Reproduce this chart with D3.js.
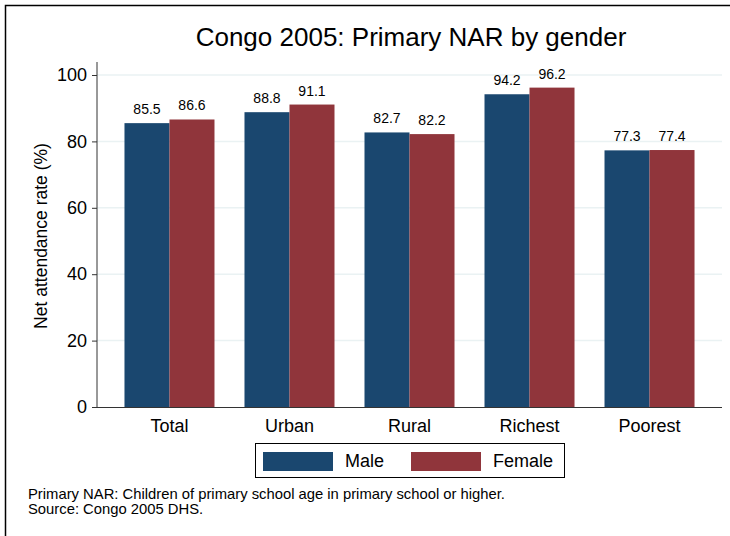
<!DOCTYPE html>
<html><head><meta charset="utf-8">
<script src="https://cdn.jsdelivr.net/npm/d3@7"></script>
<style>body{margin:0;background:#fff}svg{display:block;font-family:"Liberation Sans",Arial,sans-serif}</style>
</head><body><svg id="c" width="730" height="536"></svg>
<script>
const categories = ["Total","Urban","Rural","Richest","Poorest"];
const seriesNames = ["Male","Female"];
const maleValues = [85.5, 88.8, 82.7, 94.2, 77.3];
const femaleValues = [86.6, 91.1, 82.2, 96.2, 77.4];
const yTicks = [0,20,40,60,80,100];
const colors = ["#1a476f","#90353b"];

const svg = d3.select("#c");
svg.append("path").attr("d","M5.5,536 V5.5 H730").attr("fill","none").attr("stroke","#000").attr("stroke-width",1.5);

const x0 = d3.scaleBand().domain(categories).range([97,722]).paddingInner(0.25).paddingOuter(0.229);
const x1 = d3.scaleBand().domain(seriesNames).range([0,x0.bandwidth()]);
const y = d3.scaleLinear().domain([0,100]).range([407,75]);

svg.append("g").selectAll("line").data(yTicks.filter(t=>t>0)).join("line")
  .attr("x1",97).attr("x2",722).attr("y1",d=>y(d)).attr("y2",d=>y(d))
  .attr("stroke","#eaf2f3").attr("stroke-width",1.5);

const rows = categories.map((c,i)=>({cat:c, vals:[maleValues[i], femaleValues[i]]}));
const g = svg.append("g").selectAll("g").data(rows).join("g")
  .attr("transform",d=>`translate(${x0(d.cat)},0)`);
g.selectAll("rect").data(d=>d.vals.map((v,j)=>({s:seriesNames[j],v,j}))).join("rect")
  .attr("x",d=>x1(d.s)).attr("width",x1.bandwidth()).attr("y",d=>y(d.v)).attr("height",d=>y(0)-y(d.v))
  .attr("fill",d=>colors[d.j]);
g.selectAll("text").data(d=>d.vals.map((v,j)=>({s:seriesNames[j],v,j}))).join("text")
  .attr("x",d=>x1(d.s)+x1.bandwidth()/2).attr("y",d=>y(d.v)-9).attr("text-anchor","middle")
  .attr("font-size",14).text(d=>d.v.toFixed(1));

const ya = svg.append("g").attr("transform","translate(97,0)")
  .call(d3.axisLeft(y).tickValues(yTicks).tickSize(5).tickPadding(5));
ya.select(".domain").attr("d","M0,62V407").attr("stroke","#333");
ya.selectAll(".tick line").attr("stroke","#333");
ya.selectAll("text").attr("font-size",18).attr("font-family","Liberation Sans, Arial, sans-serif").attr("fill","#000");

const xa = svg.append("g").attr("transform","translate(0,407)")
  .call(d3.axisBottom(x0).tickSize(0).tickPadding(12));
xa.select(".domain").attr("d","M97,0.5H722").attr("stroke","#333").attr("stroke-width",1.2);
xa.selectAll("text").attr("font-size",18).attr("font-family","Liberation Sans, Arial, sans-serif").attr("fill","#000");

svg.append("text").attr("x",411).attr("y",46).attr("text-anchor","middle").attr("font-size",26).text("Congo 2005: Primary NAR by gender");
svg.append("text").attr("transform","translate(47,236) rotate(-90)").attr("text-anchor","middle").attr("font-size",17.5).text("Net attendance rate (%)");

const lg = svg.append("g");
lg.append("rect").attr("x",255.5).attr("y",443.5).attr("width",309).attr("height",34).attr("fill","#fff").attr("stroke","#000").attr("stroke-width",1);
const legX = [263,411], legTX = [345,493];
seriesNames.forEach((s,i)=>{
  lg.append("rect").attr("x",legX[i]).attr("y",452).attr("width",70).attr("height",19).attr("fill",colors[i]);
  lg.append("text").attr("x",legTX[i]).attr("y",467).attr("font-size",18).text(s);
});

svg.append("text").attr("x",28).attr("y",499).attr("font-size",14.8).text("Primary NAR: Children of primary school age in primary school or higher.");
svg.append("text").attr("x",28).attr("y",514).attr("font-size",14.8).text("Source: Congo 2005 DHS.");
</script></body></html>
